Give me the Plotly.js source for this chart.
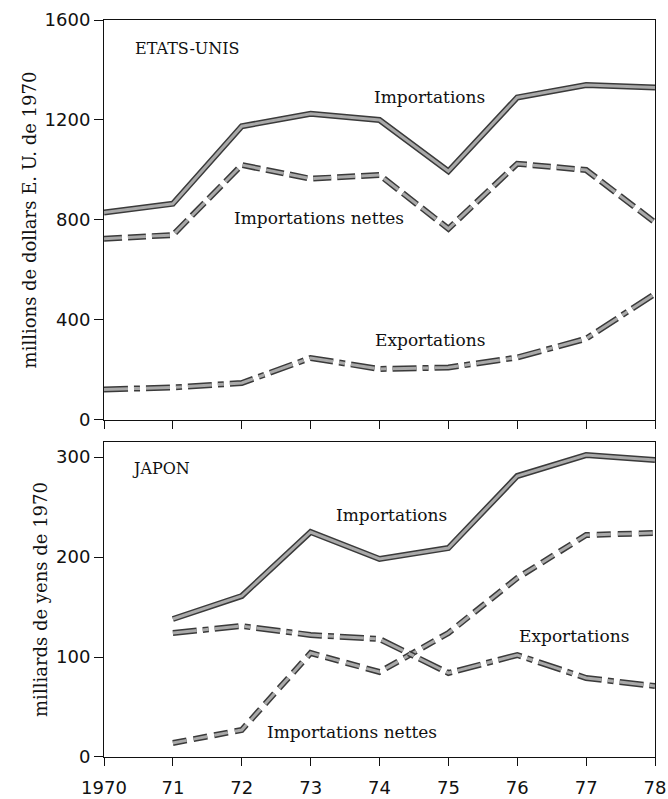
<!DOCTYPE html>
<html>
<head>
<meta charset="utf-8">
<script src="https://cdn.plot.ly/plotly-3.0.1.min.js"></script>
<style>html,body{margin:0;padding:0;background:#fff;}#chart{width:668px;height:799px;}</style>
</head>
<body>
<div id="chart"></div>
<script>
// ---- data ----
const usYears = [1970, 1971, 1972, 1973, 1974, 1975, 1976, 1977, 1978];
const usImportations = [830, 865, 1175, 1225, 1200, 995, 1290, 1340, 1330];
const usImportationsNettes = [725, 740, 1020, 965, 980, 765, 1025, 1000, 790];
const usExportations = [122, 130, 148, 248, 204, 210, 250, 325, 505];

const jpYears = [1971, 1972, 1973, 1974, 1975, 1976, 1977, 1978];
const jpImportations = [138, 161, 225, 198, 209, 281, 302, 297];
const jpImportationsNettes = [14, 27, 104, 85, 124, 179, 222, 224];
const jpExportations = [124, 131, 122, 118, 84, 102, 79, 71];

const xTickVals = [1970, 1971, 1972, 1973, 1974, 1975, 1976, 1977, 1978];
const xTickText = ['1970', '71', '72', '73', '74', '75', '76', '77', '78'];
const usTickVals = [0, 400, 800, 1200, 1600];
const jpTickVals = [0, 100, 200, 300];

// ---- styles ----
const outline = '#3a3a3a';
const inner = '#a9a9a9';
const dashNet = '18px,6px';
const dashExp = '24px,6px,6px,6px';
const dashJpNet = '14px,7px';

function pair(x, y, dash, xa, ya) {
  return [
    {x: x, y: y, xaxis: xa, yaxis: ya, mode: 'lines', hoverinfo: 'skip',
     line: {color: outline, width: 6, dash: dash}},
    {x: x, y: y, xaxis: xa, yaxis: ya, mode: 'lines', hoverinfo: 'skip',
     line: {color: inner, width: 3, dash: dash}}
  ];
}

const data = [].concat(
  pair(usYears, usImportations, 'solid', 'x', 'y'),
  pair(usYears, usImportationsNettes, dashNet, 'x', 'y'),
  pair(usYears, usExportations, dashExp, 'x', 'y'),
  pair(jpYears, jpImportations, 'solid', 'x2', 'y2'),
  pair(jpYears, jpImportationsNettes, dashJpNet, 'x2', 'y2'),
  pair(jpYears, jpExportations, dashExp, 'x2', 'y2')
);

const tickFont = {family: 'DejaVu Sans, sans-serif', size: 18, color: '#111'};
const serif = {family: 'DejaVu Serif, serif', size: 17, color: '#111'};

const axisCommon = {
  showline: true, linecolor: '#111', linewidth: 1, mirror: true,
  showgrid: false, zeroline: false, ticks: 'outside', ticklen: 8,
  tickcolor: '#111', tickwidth: 1, fixedrange: true
};

const layout = {
  width: 668, height: 799,
  margin: {l: 104, r: 13, t: 20, b: 42},
  paper_bgcolor: '#fff', plot_bgcolor: '#fff',
  showlegend: false,
  xaxis: Object.assign({}, axisCommon, {
    range: [1970, 1978], anchor: 'y', tickvals: xTickVals, showticklabels: false
  }),
  yaxis: Object.assign({}, axisCommon, {
    domain: [0.4573, 1], range: [0, 1600], anchor: 'x', ticklen: 9,
    tickvals: usTickVals, tickfont: tickFont,
    title: {text: 'millions de dollars E. U. de 1970', font: Object.assign({}, serif, {size: 18}), standoff: 3}
  }),
  xaxis2: Object.assign({}, axisCommon, {
    range: [1970, 1978], anchor: 'y2', tickvals: xTickVals, ticktext: xTickText,
    tickfont: tickFont, ticklabelstandoff: 6
  }),
  yaxis2: Object.assign({}, axisCommon, {
    domain: [0, 0.4274], range: [0, 315], anchor: 'x2', ticklen: 9,
    tickvals: jpTickVals, tickfont: tickFont,
    title: {text: 'milliards de yens de 1970', font: Object.assign({}, serif, {size: 18}), standoff: 3}
  }),
  annotations: [
    {xref: 'x', yref: 'y', x: 1970.42, y: 1488, text: 'ETATS-UNIS', showarrow: false, xanchor: 'left', font: Object.assign({}, serif, {size: 16})},
    {xref: 'x', yref: 'y', x: 1974.73, y: 1290, text: 'Importations', showarrow: false, font: serif},
    {xref: 'x', yref: 'y', x: 1973.12, y: 808, text: 'Importations nettes', showarrow: false, font: serif},
    {xref: 'x', yref: 'y', x: 1974.73, y: 320, text: 'Exportations', showarrow: false, font: serif},
    {xref: 'x2', yref: 'y2', x: 1970.38, y: 289, text: 'JAPON', showarrow: false, xanchor: 'left', font: Object.assign({}, serif, {size: 16})},
    {xref: 'x2', yref: 'y2', x: 1974.18, y: 242, text: 'Importations', showarrow: false, font: serif},
    {xref: 'x2', yref: 'y2', x: 1976.82, y: 121, text: 'Exportations', showarrow: false, font: serif},
    {xref: 'x2', yref: 'y2', x: 1973.6, y: 25, text: 'Importations nettes', showarrow: false, font: serif}
  ]
};

Plotly.newPlot('chart', data, layout, {staticPlot: true, displayModeBar: false});
</script>
</body>
</html>
